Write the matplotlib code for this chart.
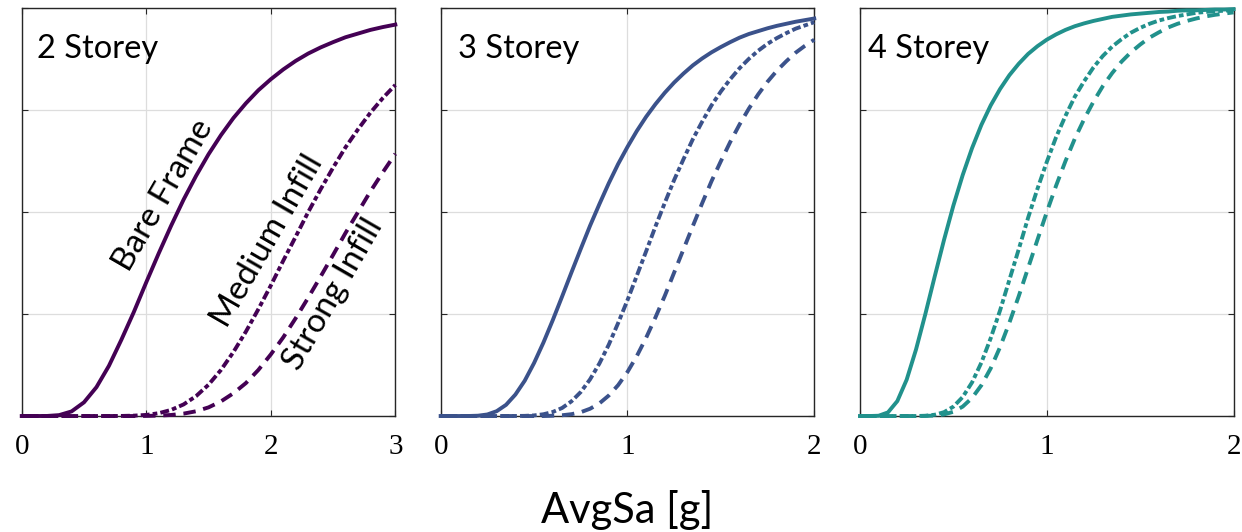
import matplotlib
matplotlib.use("Agg")
import matplotlib.pyplot as plt

# probability of exceedance
x_2st = [0.0, 0.1, 0.2, 0.3, 0.4, 0.5, 0.6, 0.7, 0.8, 0.9, 1.0, 1.1, 1.2, 1.3, 1.4, 1.5,
         1.6, 1.7, 1.8, 1.9, 2.0, 2.1, 2.2, 2.3, 2.4, 2.5, 2.6, 2.7, 2.8, 2.9, 3.0]
bare_2st = [0, 0, 0.0001, 0.0022, 0.0113, 0.0336, 0.0708, 0.123, 0.187, 0.255, 0.328,
            0.399, 0.467, 0.531, 0.589, 0.642, 0.689, 0.731, 0.767, 0.799, 0.826, 0.850,
            0.871, 0.889, 0.904, 0.917, 0.929, 0.938, 0.947, 0.954, 0.960]
medium_2st = [0, 0, 0, 0, 0, 0, 0, 0, 0.0002, 0.0009, 0.0027, 0.0069, 0.015, 0.0285,
              0.0488, 0.0768, 0.113, 0.157, 0.207, 0.262, 0.320, 0.381, 0.440, 0.500,
              0.556, 0.609, 0.659, 0.703, 0.744, 0.780, 0.812]
strong_2st = [0, 0, 0, 0, 0, 0, 0, 0, 0, 0, 0.0003, 0.001, 0.0026, 0.0059, 0.0117,
              0.0212, 0.0359, 0.0559, 0.0808, 0.113, 0.151, 0.193, 0.240, 0.290, 0.342,
              0.395, 0.449, 0.500, 0.551, 0.598, 0.643]

x_34st = [0.0, 0.05, 0.1, 0.15, 0.2, 0.25, 0.3, 0.35, 0.4, 0.45, 0.5, 0.55, 0.6, 0.65,
          0.7, 0.75, 0.8, 0.85, 0.9, 0.95, 1.0, 1.05, 1.1, 1.15, 1.2, 1.25, 1.3, 1.35,
          1.4, 1.45, 1.5, 1.55, 1.6, 1.65, 1.7, 1.75, 1.8, 1.85, 1.9, 1.95, 2.0]
bare_3st = [0, 0, 0, 0.0001, 0.0008, 0.0038, 0.0119, 0.0274, 0.0526, 0.0866, 0.130,
            0.180, 0.235, 0.293, 0.352, 0.410, 0.467, 0.520, 0.571, 0.618, 0.660, 0.699,
            0.734, 0.765, 0.793, 0.818, 0.840, 0.860, 0.877, 0.892, 0.905, 0.917, 0.928,
            0.937, 0.944, 0.951, 0.957, 0.962, 0.967, 0.971, 0.975]
medium_3st = [0, 0, 0, 0, 0, 0, 0, 0, 0.0001, 0.0004, 0.0015, 0.0043, 0.0099, 0.0197,
              0.0359, 0.0589, 0.0901, 0.129, 0.175, 0.228, 0.284, 0.344, 0.404, 0.465,
              0.523, 0.579, 0.630, 0.679, 0.722, 0.762, 0.796, 0.826, 0.853, 0.876,
              0.896, 0.913, 0.927, 0.939, 0.950, 0.958, 0.966]
strong_3st = [0, 0, 0, 0, 0, 0, 0, 0, 0, 0, 0, 0, 0.0007, 0.0019, 0.0045, 0.0094,
              0.0179, 0.0311, 0.0503, 0.0757, 0.108, 0.147, 0.192, 0.242, 0.295, 0.352,
              0.409, 0.466, 0.522, 0.576, 0.625, 0.672, 0.715, 0.754, 0.789, 0.820,
              0.847, 0.870, 0.891, 0.908, 0.923]
bare_4st = [0, 0, 0.0007, 0.0089, 0.0366, 0.0891, 0.163, 0.250, 0.342, 0.432, 0.516,
            0.591, 0.657, 0.714, 0.762, 0.802, 0.836, 0.864, 0.888, 0.907, 0.923, 0.936,
            0.947, 0.956, 0.963, 0.969, 0.974, 0.979, 0.982, 0.985, 0.987, 0.989, 0.991,
            0.992, 0.994, 0.995, 0.995, 0.996, 0.997, 0.997, 0.998]
medium_4st = [0, 0, 0, 0, 0, 0, 0, 0.0007, 0.0031, 0.0094, 0.0230, 0.0466, 0.0824, 0.131,
              0.191, 0.259, 0.334, 0.409, 0.486, 0.557, 0.623, 0.684, 0.736, 0.783, 0.821,
              0.855, 0.883, 0.906, 0.924, 0.940, 0.952, 0.962, 0.970, 0.976, 0.981,
              0.985, 0.989, 0.991, 0.993, 0.994, 0.996]
strong_4st = [0, 0, 0, 0, 0, 0, 0, 0.0002, 0.0011, 0.0039, 0.0104, 0.0231, 0.0443, 0.0754,
              0.117, 0.169, 0.229, 0.294, 0.363, 0.432, 0.500, 0.565, 0.625, 0.680, 0.728,
              0.771, 0.809, 0.841, 0.869, 0.892, 0.911, 0.928, 0.941, 0.953, 0.962,
              0.969, 0.975, 0.980, 0.984, 0.987, 0.990]

panel_titles = ['2 Storey', '3 Storey', '4 Storey']
xmax = [3, 2, 2]
colors = ['#440154', '#3b528b', '#21918c']
curve_labels = ['Bare Frame', 'Medium Infill', 'Strong Infill']

panels = [
    (x_2st, [bare_2st, medium_2st, strong_2st]),
    (x_34st, [bare_3st, medium_3st, strong_3st]),
    (x_34st, [bare_4st, medium_4st, strong_4st]),
]

fig = plt.figure(figsize=(12.42, 5.32), dpi=100)
lefts = [0.0175, 0.3548, 0.6924]
title_x = [0.040, 0.047, 0.022]

lw = 2.8
styles = [dict(linestyle='-', solid_joinstyle='round'),
          dict(dashes=(2.3, 0.8, 1.2, 0.8), dash_capstyle='butt'),
          dict(dashes=(3.2, 2.0), dash_capstyle='butt')]

for i, (xs, ys) in enumerate(panels):
    ax = fig.add_axes([lefts[i], 0.218, 0.3008, 0.7664])
    for y, st in zip(ys, styles):
        ax.plot(xs, y, color=colors[i], lw=lw, clip_on=False, zorder=3, **st)
    ax.set_xlim(0, xmax[i])
    ax.set_ylim(0, 1)
    ax.set_xticks(range(xmax[i] + 1))
    ax.set_yticks([0, 0.25, 0.5, 0.75, 1])
    ax.set_yticklabels([])
    ax.grid(True, color='#dddddd', lw=0.9)
    ax.set_axisbelow(True)
    ax.tick_params(direction='in', length=4, width=0.8, top=True, right=True,
                   labelsize=21, pad=13, colors='#262626')
    for lab in ax.get_xticklabels():
        lab.set_fontfamily('Liberation Serif')
        lab.set_color('black')
    for sp in ax.spines.values():
        sp.set_color('#262626')
        sp.set_linewidth(1.0)
    ax.text(title_x[i], 0.877, panel_titles[i], transform=ax.transAxes,
            fontsize=23.5, family='Lato', va='baseline', ha='left')

    if i == 0:
        # labels along the curves
        ax.text(1.135, 0.542, curve_labels[0], rotation=60, fontsize=24, family='Lato',
                ha='center', va='center', rotation_mode='anchor')
        ax.text(1.97, 0.429, curve_labels[1], rotation=60, fontsize=24, family='Lato',
                ha='center', va='center', rotation_mode='anchor')
        ax.text(2.50, 0.299, curve_labels[2], rotation=60, fontsize=24, family='Lato',
                ha='center', va='center', rotation_mode='anchor')

fig.text(0.5046, 0.0163, 'AvgSa [g]', fontsize=30, family='Lato', ha='center', va='baseline')

fig.savefig('out.png', dpi=100)
